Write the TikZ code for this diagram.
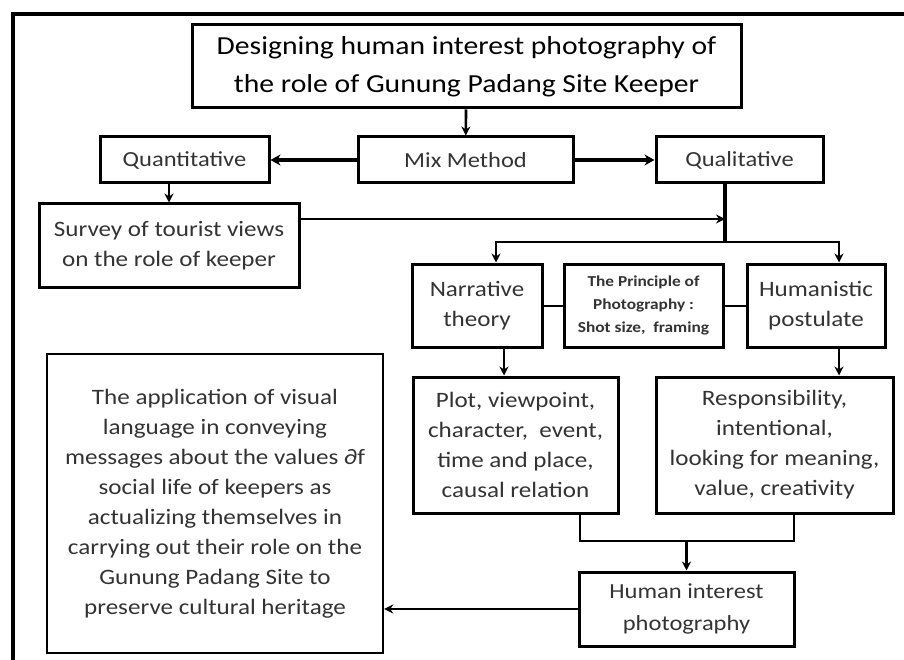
\documentclass[tikz,border=0pt]{standalone}
\usepackage{fontspec}
\setmainfont{Carlito}[FakeStretch=1.14]
\usepackage{xcolor}
\usetikzlibrary{positioning,arrows.meta,calc}
\definecolor{gpink}{HTML}{000000}
\definecolor{gptext}{HTML}{333333}
\tikzset{
  box/.style  ={draw=gpink,line width=3pt,align=center,inner sep=2pt,text=gptext,font=\fontsize{22}{30}\selectfont},
  bigbox/.style ={box,text=black,font=\fontsize{26}{38}\selectfont},
  midbox/.style ={box,font=\fontsize{21.5}{26}\selectfont},
  smallbox/.style ={box,font=\fontsize{15.2}{23}\selectfont\bfseries},
  arr/.style  ={-{Stealth[length=9pt,width=9pt]},line width=2.6pt,draw=gpink},
  fatarr/.style ={-{Stealth[length=10pt,width=11pt]},line width=4pt,draw=gpink},
  link/.style ={line width=2.6pt,draw=gpink},
  frame/.style ={line width=4pt,draw=gpink},
}
\begin{document}
\begin{tikzpicture}[x=1pt,y=-1pt]
  \useasboundingbox (0,0) rectangle (904,660);
  \draw[frame] (13,662) -- (13,14) -- (906,14);

  \node[bigbox,minimum width=549pt,minimum height=83pt] (title) at (466.5,66.5)
    {Designing human interest photography of\\the role of Gunung Padang Site Keeper};
  \node[midbox,minimum width=215pt,minimum height=46pt] (mix)   at (465.5,160) {Mix Method};
  \node[midbox,minimum width=169pt,minimum height=46pt] (quant) at (184.5,160) {Quantitative};
  \node[midbox,minimum width=167pt,minimum height=46pt] (qual)  at (739.5,160) {Qualitative};
  \node[box,minimum width=260pt,minimum height=83pt] (survey) at (169,245.5)
    {Survey of tourist views\\on the role of keeper};

  \node[box,minimum width=130pt,minimum height=83pt] (narr)  at (477,305.5) {Narrative\\theory};
  \node[smallbox,minimum width=159pt,minimum height=83pt] (princ) at (643.5,305.5)
    {The Principle of\\Photography :\\Shot size,\ \ framing};
  \node[box,minimum width=138pt,minimum height=83pt] (hum)   at (816,305.5) {Humanistic\\postulate};

  \node[box,minimum width=205pt,minimum height=136pt] (plot) at (515.5,445)
    {Plot, viewpoint,\\character,\ \ event,\\time and place,\\causal relation};
  \node[box,minimum width=237pt,minimum height=136pt] (resp) at (774.5,445)
    {Responsibility,\\intentional,\\looking for meaning,\\value, creativity};
  \node[box,minimum width=215pt,minimum height=74pt,font=\fontsize{21.5}{32}\selectfont] (hip) at (686.5,609)
    {Human interest\\photography};
  \node[box,line width=2.4pt,minimum width=336pt,minimum height=299pt,font=\fontsize{22}{30}\selectfont] (app) at (215,503.5)
    {The application of visual\\language in conveying\\messages about the values ∂f\\social life of keepers as\\actualizing themselves in\\carrying out their role on the\\Gunung Padang Site to\\preserve cultural heritage};

  \coordinate (jn)    at (725,219);
  \coordinate (split) at (725,242);
  \coordinate (merge) at (686.5,541);

  \draw[arr] (title) -- (mix);
  \draw[fatarr] (mix) -- (quant);
  \draw[fatarr] (mix) -- (qual);
  \draw[arr] (survey.north |- quant.south) -- (survey.north);
  \draw[link,line width=3.4pt] (split |- qual.south) -- (split);
  \draw[arr] (survey.east |- jn) -- (jn);
  \draw[arr] (split) -| ([xshift=19pt]narr.north);
  \draw[arr] (split) -| ([xshift=23pt]hum.north);
  \draw[link,line width=2pt] (narr) -- (princ);
  \draw[link,line width=2pt] (princ) -- (hum);
  \draw[arr] ([xshift=27pt]narr.south) -- ([xshift=27pt]narr.south |- plot.north);
  \draw[arr] ([xshift=23pt]hum.south) -- ([xshift=23pt]hum.south |- resp.north);
  \draw[link] ([xshift=64.5pt]plot.south) |- (merge) -| ([xshift=19.5pt]resp.south);
  \draw[arr] (merge) -- (hip);
  \draw[arr] (hip.west) -- (hip.west -| app.east);
\end{tikzpicture}
\end{document}
